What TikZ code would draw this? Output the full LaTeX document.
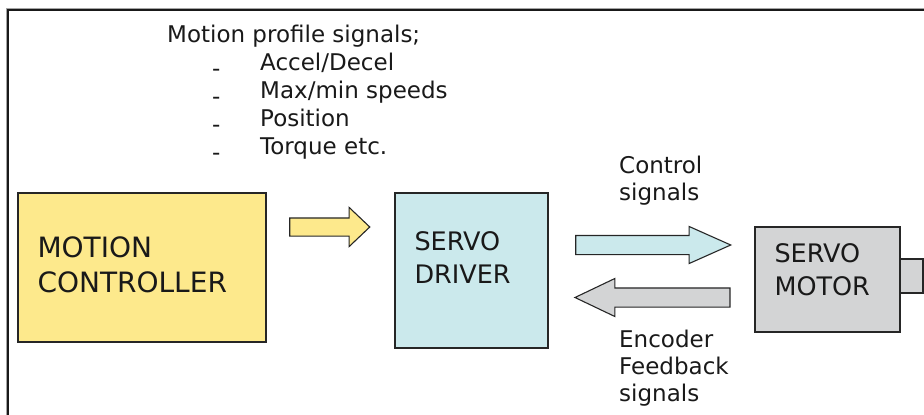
\documentclass[tikz,border=0pt]{standalone}
\usepackage{fontspec}
\setmainfont{DejaVu Sans}
\usetikzlibrary{positioning, shapes.arrows}
\definecolor{ctrlyellow}{RGB}{253,233,140}
\definecolor{drivecyan}{RGB}{203,233,236}
\definecolor{motorgray}{RGB}{211,212,213}
\definecolor{framegray}{RGB}{165,165,165}

\begin{document}
\begin{tikzpicture}[
        x=1pt, y=-1pt,
        block/.style={rectangle, draw=black!85, line width=1.4pt, inner sep=0pt},
        blocktext/.style={inner sep=0pt, align=left, text=black!90},
        signaltext/.style={inner sep=0pt, align=left, text=black!90, font=\fontsize{23}{27}\selectfont},
        fatarrow/.style={single arrow, draw=black!85, line width=1.1pt, inner xsep=0pt, single arrow head indent=0pt}
    ]
    \useasboundingbox (0,0) rectangle (924,415);

    % Frame
    \draw [framegray, line width=1pt] (6.5,415) |- (924,8.5);
    \draw [black!90, line width=1.3pt] (8,415) |- (924,10);

    % Blocks
    \node (mc) [block, fill=ctrlyellow, minimum width=248pt, minimum height=149pt] at (142,267.5) {};
    \node (sd) [block, fill=drivecyan, minimum width=153pt, minimum height=155pt] at (471.5,270.5) {};
    \node (shaft) [block, fill=motorgray, minimum width=23pt, minimum height=34pt] at (911.5,276) {};
    \node (sm) [block, fill=motorgray, minimum width=145pt, minimum height=105pt] at (827.5,279.5) {};

    \node (mctext) [blocktext, font=\fontsize{28}{35}\selectfont, below right=44pt and 20pt of mc.north west] {MOTION\\CONTROLLER};
    \node (sdtext) [blocktext, font=\fontsize{25.5}{33}\selectfont, below right=39pt and 20pt of sd.north west] {SERVO\\DRIVER};
    \node (smtext) [blocktext, font=\fontsize{25.5}{33}\selectfont, below right=17pt and 20pt of sm.north west] {SERVO\\MOTOR};

    % Arrows
    \node (cmdarrow) [fatarrow, fill=ctrlyellow, inner ysep=8.5pt, minimum height=80pt, single arrow head extend=10.5pt, single arrow tip angle=87] at (325,227) {};
    \node (ctrlarrow) [fatarrow, fill=drivecyan, inner ysep=9pt, minimum height=155pt, single arrow head extend=9pt, single arrow tip angle=48] at (642.5,245) {};
    \node (fbarrow) [fatarrow, fill=motorgray, shape border rotate=180, inner ysep=9pt, minimum height=155pt, single arrow head extend=9.5pt, single arrow tip angle=51] at (662.5,297.5) {};

    % Signal texts
    \node (title) [signaltext, anchor=base west] at (167,42) {Motion profile signals;};
    \foreach \sig [count=\i] in {{Accel/Decel}, {Max/min speeds}, Position, {Torque etc.}} {
        \node (dash\i) [signaltext, anchor=base west] at (212,42+28*\i+6) {-};
        \node (sig\i) [signaltext, anchor=base west] at (260,42+28*\i) {\sig};
    }
    \node (ctrllabel) [signaltext, anchor=north west] at (619,155.5) {Control\\signals};
    \node (fblabel) [signaltext, anchor=north west] at (619,329.5) {Encoder\\Feedback\\signals};

\end{tikzpicture}
\end{document}
